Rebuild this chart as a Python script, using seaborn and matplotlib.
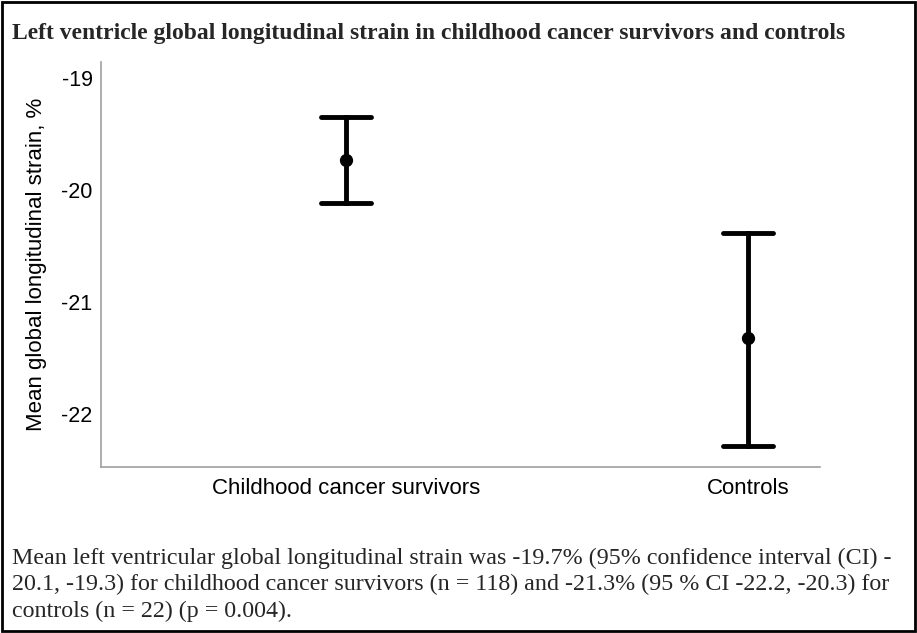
import pandas as pd
import numpy as np
import matplotlib.pyplot as plt
import seaborn as sns
from matplotlib.patches import Rectangle

# summary values: mean and 95% CI per group
groups = ["Childhood cancer survivors", "Controls"]
means = [-19.73, -21.32]
ci_low = [-20.12, -22.28]
ci_high = [-19.35, -20.38]
yticks = [-19, -20, -21, -22]

title = "Left ventricle global longitudinal strain in childhood cancer survivors and controls"
caption = ("Mean left ventricular global longitudinal strain was -19.7% (95% confidence interval (CI) -\n"
           "20.1, -19.3) for childhood cancer survivors (n = 118) and -21.3% (95 % CI -22.2, -20.3) for\n"
           "controls (n = 22) (p = 0.004).")

# long table: each group gets (low, mean, high) -> median is the mean, min/max the CI
rows = []
for g, lo, m, hi in zip(groups, ci_low, means, ci_high):
    for v in (lo, m, hi):
        rows.append({"group": g, "value": v})
df = pd.DataFrame(rows)

sns.set_style("white")
fig = plt.figure(figsize=(9.17, 6.33), dpi=100)
ax = fig.add_axes([0.110, 0.262, 0.784, 0.640])

sns.pointplot(data=df, x="group", y="value", estimator="median",
              errorbar=lambda v: (v.min(), v.max()), color="black",
              linestyle="none", capsize=0.125, markersize=7.5,
              err_kws={"linewidth": 3.5}, ax=ax)

ax.set_xlim(-0.609, 1.179)
ax.set_ylim(-22.47, -18.86)
ax.set_yticks(yticks)
ax.set_yticklabels([str(t) for t in yticks])
ax.set_xlabel("")
ax.set_ylabel("Mean global longitudinal strain, %", fontsize=16, family="Liberation Sans",
              labelpad=10, color="black")
ax.tick_params(axis="y", length=0, labelsize=15.5, colors="black", pad=6)
ax.tick_params(axis="x", length=0, labelsize=16, colors="black", pad=8)
for lab in ax.get_xticklabels() + ax.get_yticklabels():
    lab.set_family("Liberation Sans")
for s in ["top", "right"]:
    ax.spines[s].set_visible(False)
for s in ["left", "bottom"]:
    ax.spines[s].set_color("#a0a0a0")
    ax.spines[s].set_linewidth(1.2)

fig.text(0.013, 0.947, title, fontsize=17, fontweight="bold", family="Liberation Serif", va="center")
fig.text(0.013, 0.076, caption, fontsize=17.3, family="Liberation Serif", va="center", linespacing=1.3)

# frame around the whole figure
fig.patches.append(Rectangle((0.002, 0.003), 0.996, 0.994, transform=fig.transFigure,
                             fill=False, edgecolor="black", linewidth=2))

fig.savefig("out.png", dpi=100)
